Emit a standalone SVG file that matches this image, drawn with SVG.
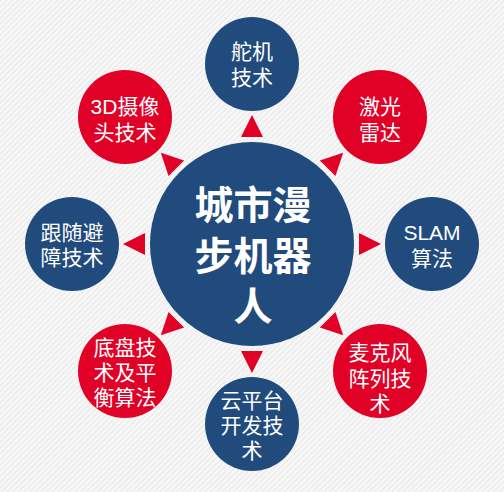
<svg xmlns="http://www.w3.org/2000/svg" width="504" height="492" viewBox="0 0 504 492">
<defs>
<pattern id="bg" patternUnits="userSpaceOnUse" width="4" height="4" patternTransform="rotate(-45)">
<rect width="4" height="4" fill="#f8f8f8"/>
<rect width="4" height="1.6" fill="#ececec"/>
</pattern>
<polygon id="tri" points="0,-129 11,-107 -11,-107"/>
</defs>
<style>
.blue{fill:#214a7d}
.red{fill:#e10026}
.t{font-family:"Liberation Sans","Noto Sans CJK SC",sans-serif;font-size:21px;fill:#ffffff;text-anchor:middle;dominant-baseline:central}
.c{font-family:"Liberation Sans","Noto Sans CJK SC",sans-serif;font-size:39px;font-weight:bold;fill:#ffffff;text-anchor:middle;dominant-baseline:central}
.arrow{fill:#e10026}
</style>
<rect width="504" height="492" fill="url(#bg)"/>
<g id="connectors" class="arrow">
<use href="#tri" transform="translate(252,244) rotate(0)"/>
<use href="#tri" transform="translate(252,244) rotate(45)"/>
<use href="#tri" transform="translate(252,244) rotate(90)"/>
<use href="#tri" transform="translate(252,244) rotate(135)"/>
<use href="#tri" transform="translate(252,244) rotate(180)"/>
<use href="#tri" transform="translate(252,244) rotate(225)"/>
<use href="#tri" transform="translate(252,244) rotate(270)"/>
<use href="#tri" transform="translate(252,244) rotate(315)"/>
</g>
<g id="center">
<circle cx="252" cy="244" r="102" class="blue"/>
<text class="c"><tspan x="253" y="205">城市漫</tspan><tspan x="253" y="256">步机器</tspan><tspan x="253" y="306">人</tspan></text>
</g>
<g id="n-top">
<circle cx="252" cy="64" r="47" class="blue"/>
<text class="t"><tspan x="252" y="51">舵机</tspan><tspan x="252" y="77">技术</tspan></text>
</g>
<g id="n-topright">
<circle cx="380" cy="117" r="47" class="red"/>
<text class="t"><tspan x="380" y="106">激光</tspan><tspan x="380" y="132">雷达</tspan></text>
</g>
<g id="n-right">
<circle cx="432" cy="244" r="47" class="blue"/>
<text class="t"><tspan x="432" y="232">SLAM</tspan><tspan x="432" y="258">算法</tspan></text>
</g>
<g id="n-bottomright">
<circle cx="380" cy="371" r="47" class="red"/>
<text class="t"><tspan x="380" y="352">麦克风</tspan><tspan x="380" y="378">阵列技</tspan><tspan x="380" y="403">术</tspan></text>
</g>
<g id="n-bottom">
<circle cx="252" cy="424" r="47" class="blue"/>
<text class="t"><tspan x="252" y="400">云平台</tspan><tspan x="252" y="425">开发技</tspan><tspan x="252" y="450">术</tspan></text>
</g>
<g id="n-bottomleft">
<circle cx="125" cy="371" r="47" class="red"/>
<text class="t"><tspan x="125" y="347">底盘技</tspan><tspan x="125" y="372">术及平</tspan><tspan x="125" y="397">衡算法</tspan></text>
</g>
<g id="n-left">
<circle cx="72" cy="244" r="47" class="blue"/>
<text class="t"><tspan x="72" y="232">跟随避</tspan><tspan x="72" y="257">障技术</tspan></text>
</g>
<g id="n-topleft">
<circle cx="125" cy="117" r="47" class="red"/>
<text class="t"><tspan x="125" y="106">3D摄像</tspan><tspan x="125" y="132">头技术</tspan></text>
</g>
</svg>
